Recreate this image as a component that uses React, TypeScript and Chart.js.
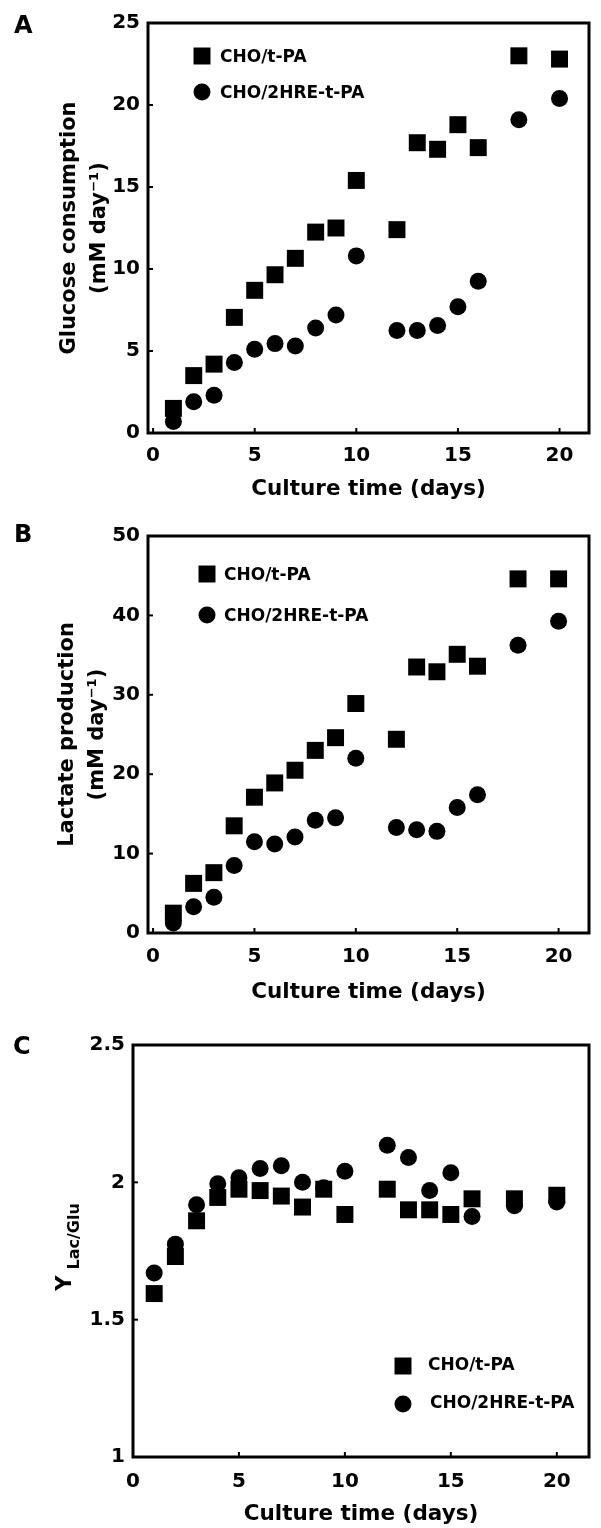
import React, { useEffect, useRef } from 'react';
import { Chart, registerables } from 'chart.js';

Chart.register(...registerables);

// ---------------- data ----------------
const days = [1, 2, 3, 4, 5, 6, 7, 8, 9, 10, 12, 13, 14, 15, 16, 18, 20];
const seriesLabels = ['CHO/t-PA', 'CHO/2HRE-t-PA'];

const glucoseTPA = [1.5, 3.5, 4.2, 7.05, 8.7, 9.65, 10.65, 12.25, 12.5, 15.4, 12.4, 17.7, 17.3, 18.8, 17.4, 23.0, 22.8];
const glucoseHRE = [0.7, 1.9, 2.3, 4.3, 5.1, 5.45, 5.3, 6.4, 7.2, 10.8, 6.25, 6.25, 6.55, 7.7, 9.25, 19.1, 20.4];
const lactateTPA = [2.5, 6.25, 7.6, 13.5, 17.1, 18.9, 20.5, 23.0, 24.6, 28.9, 24.4, 33.5, 32.9, 35.1, 33.6, 44.6, 44.6];
const lactateHRE = [1.25, 3.3, 4.5, 8.5, 11.5, 11.2, 12.1, 14.2, 14.5, 22.0, 13.3, 13.0, 12.8, 15.8, 17.4, 36.25, 39.25];
const yieldTPA = [1.595, 1.73, 1.86, 1.945, 1.975, 1.97, 1.95, 1.91, 1.975, 1.883, 1.975, 1.9, 1.9, 1.883, 1.94, 1.94, 1.953];
const yieldHRE = [1.67, 1.775, 1.918, 1.995, 2.017, 2.05, 2.06, 2.0, 1.98, 2.04, 2.135, 2.09, 1.97, 2.035, 1.876, 1.915, 1.928];

const xTicks = [0, 5, 10, 15, 20];
const glucoseTicks = [0, 5, 10, 15, 20, 25];
const lactateTicks = [0, 10, 20, 30, 40, 50];
const yieldTicks = [1, 1.5, 2, 2.5];

const xTitle = 'Culture time (days)';
const glucoseTitle = ['Glucose consumption', '(mM day\u207B\u00B9)'];
const lactateTitle = ['Lactate production', '(mM day\u207B\u00B9)'];
const yieldTitleMain = 'Y';
const yieldTitleSub = 'Lac/Glu';
const panelLetters = ['A', 'B', 'C'];

// ---------------- style ----------------
const FONT = '"DejaVu Sans", "Liberation Sans", sans-serif';
const SQUARE_R = 12;
const CIRCLE_R = 8.5;
const TICK_SIZE = 20;
const TITLE_SIZE = 21;
const XTITLE_SIZE = 21.5;
const TITLE_LH = 1.43;
const XTITLE_LH = 1.2;

const panels = [
  {
    letter: panelLetters[0], canvasTop: 0, height: 505,
    padTop: 23, padRight: 10, yAxisW: 148, xAxisH: 72,
    xmin: -0.25, xmax: 21.45, ymin: 0, ymax: 25, yTicks: glucoseTicks,
    a: glucoseTPA, b: glucoseHRE, yTitle: glucoseTitle,
    yTitleCenter: 70, xTitleCenter: 489, xTickPad: 11,
    letterX: 14, letterY: 27,
    legend: { x: 202, y1: 56, y2: 92, textX: 220, textDy: 2 },
  },
  {
    letter: panelLetters[1], canvasTop: 505, height: 500,
    padTop: 31, padRight: 9, yAxisW: 148, xAxisH: 72,
    xmin: -0.25, xmax: 21.5, ymin: 0, ymax: 50, yTicks: lactateTicks,
    a: lactateTPA, b: lactateHRE, yTitle: lactateTitle,
    yTitleCenter: 68, xTitleCenter: 487, xTickPad: 12,
    letterX: 14, letterY: 31,
    legend: { x: 207, y1: 69, y2: 110, textX: 224, textDy: 2 },
  },
  {
    letter: panelLetters[2], canvasTop: 1005, height: 523,
    padTop: 40, padRight: 2, yAxisW: 133, xAxisH: 71,
    xmin: 0, xmax: 21.52, ymin: 1, ymax: 2.5, yTicks: yieldTicks,
    a: yieldTPA, b: yieldHRE, yTitle: null,
    yTitleCenter: 0, xTitleCenter: 509, xTickPad: 13,
    letterX: 13, letterY: 43,
    legend: { x: 403, y1: 361, y2: 399, textX: 428, textDy: 0 },
  },
];

const decorPlugin = {
  id: 'decor',
  afterDatasetsDraw(chart: any, _args: any, opts: any) {
    const { ctx, chartArea: area, scales } = chart;
    ctx.save();
    ctx.strokeStyle = '#000';
    ctx.fillStyle = '#000';
    // inward tick marks
    ctx.lineWidth = 2;
    scales.x.ticks.forEach((t: any) => {
      const px = scales.x.getPixelForValue(t.value);
      ctx.beginPath();
      ctx.moveTo(px, area.bottom);
      ctx.lineTo(px, area.bottom - 5);
      ctx.stroke();
    });
    scales.y.ticks.forEach((t: any) => {
      const py = scales.y.getPixelForValue(t.value);
      ctx.beginPath();
      ctx.moveTo(area.left, py);
      ctx.lineTo(area.left + 5, py);
      ctx.stroke();
    });
    // frame
    ctx.lineWidth = 3;
    ctx.strokeRect(area.left, area.top, area.right - area.left, area.bottom - area.top);
    // panel letter
    ctx.font = `bold 24px ${FONT}`;
    ctx.textAlign = 'left';
    ctx.textBaseline = 'middle';
    ctx.fillText(opts.letter, opts.letterX, opts.letterY);
    // legend
    const lg = opts.legend;
    chart.data.datasets.forEach((ds: any, i: number) => {
      const cy = i === 0 ? lg.y1 : lg.y2;
      ctx.beginPath();
      if (ds.pointStyle === 'rect') {
        const s = ds.pointRadius * Math.SQRT1_2;
        ctx.rect(lg.x - s, cy - s, 2 * s, 2 * s);
      } else {
        ctx.arc(lg.x, cy, ds.pointRadius, 0, Math.PI * 2);
      }
      ctx.fill();
      ctx.font = `bold 17px ${FONT}`;
      ctx.textBaseline = 'middle';
      ctx.fillText(ds.label, lg.textX + (i === 1 && opts.letter === 'C' ? 2 : 0), cy + lg.textDy);
    });
    // custom y title with subscript
    if (opts.yMain) {
      const cy = (area.top + area.bottom) / 2 - 4;
      ctx.translate(71, cy);
      ctx.rotate(-Math.PI / 2);
      ctx.textBaseline = 'alphabetic';
      ctx.font = `bold 21px ${FONT}`;
      const wMain = ctx.measureText(opts.yMain).width;
      ctx.font = `bold 16px ${FONT}`;
      const wSub = ctx.measureText(opts.ySub).width;
      const gap = 6;
      const start = -(wMain + gap + wSub) / 2;
      ctx.font = `bold 21px ${FONT}`;
      ctx.fillText(opts.yMain, start, 0);
      ctx.font = `bold 16px ${FONT}`;
      ctx.fillText(opts.ySub, start + wMain + gap, 8);
    }
    ctx.restore();
  },
};

function makeConfig(p: any): any {
  const tickFont = { family: FONT, size: TICK_SIZE, weight: 'bold' };
  const xTitleLineH = XTITLE_SIZE * XTITLE_LH;
  const yTitleLineH = TITLE_SIZE * TITLE_LH;
  return {
    type: 'scatter',
    data: {
      datasets: [
        {
          label: seriesLabels[0],
          data: days.map((d, i) => ({ x: d, y: p.a[i] })),
          pointStyle: 'rect',
          pointRadius: SQUARE_R,
          backgroundColor: '#000',
          borderColor: '#000',
          borderWidth: 0,
        },
        {
          label: seriesLabels[1],
          data: days.map((d, i) => ({ x: d, y: p.b[i] })),
          pointStyle: 'circle',
          pointRadius: CIRCLE_R,
          backgroundColor: '#000',
          borderColor: '#000',
          borderWidth: 0,
        },
      ],
    },
    options: {
      animation: false,
      responsive: false,
      maintainAspectRatio: false,
      layout: { padding: { top: p.padTop, right: p.padRight, left: 0, bottom: 0 } },
      plugins: {
        legend: { display: false },
        tooltip: { enabled: false },
        decor: {
          letter: p.letter,
          letterX: p.letterX,
          letterY: p.letterY,
          legend: p.legend,
          yMain: p.yTitle ? null : yieldTitleMain,
          ySub: p.yTitle ? null : yieldTitleSub,
        },
      },
      scales: {
        x: {
          type: 'linear',
          min: p.xmin,
          max: p.xmax,
          grid: { display: false, drawTicks: false },
          border: { display: false },
          afterBuildTicks: (s: any) => {
            s.ticks = xTicks.map((v) => ({ value: v }));
          },
          afterFit: (s: any) => {
            s.height = p.xAxisH;
          },
          ticks: {
            padding: p.xTickPad,
            color: '#000',
            font: tickFont,
            maxRotation: 0,
            autoSkip: false,
            callback: (v: any) => String(v),
          },
          title: {
            display: true,
            text: xTitle,
            color: '#000',
            font: { family: FONT, size: XTITLE_SIZE, weight: 'bold', lineHeight: XTITLE_LH },
            padding: { top: 0, bottom: p.height - p.xTitleCenter - xTitleLineH / 2 },
          },
        },
        y: {
          type: 'linear',
          min: p.ymin,
          max: p.ymax,
          grid: { display: false, drawTicks: false },
          border: { display: false },
          afterBuildTicks: (s: any) => {
            s.ticks = p.yTicks.map((v: number) => ({ value: v }));
          },
          afterFit: (s: any) => {
            s.width = p.yAxisW;
          },
          ticks: {
            padding: 8,
            color: '#000',
            font: tickFont,
            autoSkip: false,
            callback: (v: any) => String(v),
          },
          title: {
            display: !!p.yTitle,
            text: p.yTitle || '',
            color: '#000',
            font: { family: FONT, size: TITLE_SIZE, weight: 'bold', lineHeight: TITLE_LH },
            padding: { top: p.yTitleCenter - yTitleLineH / 2, bottom: 0 },
          },
        },
      },
    },
    plugins: [decorPlugin],
  };
}

function Panel({ p }: { p: any }) {
  const ref = useRef<HTMLCanvasElement | null>(null);
  useEffect(() => {
    if (!ref.current) return;
    const chart = new Chart(ref.current, makeConfig(p));
    return () => chart.destroy();
  }, [p]);
  return (
    <canvas
      ref={ref}
      width={601}
      height={p.height}
      style={{ position: 'absolute', left: 0, top: p.canvasTop, width: 601, height: p.height }}
    />
  );
}

export default function App() {
  useEffect(() => {
    document.body.style.margin = '0';
    document.body.style.background = '#fff';
  }, []);
  return (
    <div style={{ position: 'relative', width: 601, height: 1528, background: '#fff', overflow: 'hidden' }}>
      {panels.map((p) => (
        <Panel key={p.letter} p={p} />
      ))}
    </div>
  );
}
